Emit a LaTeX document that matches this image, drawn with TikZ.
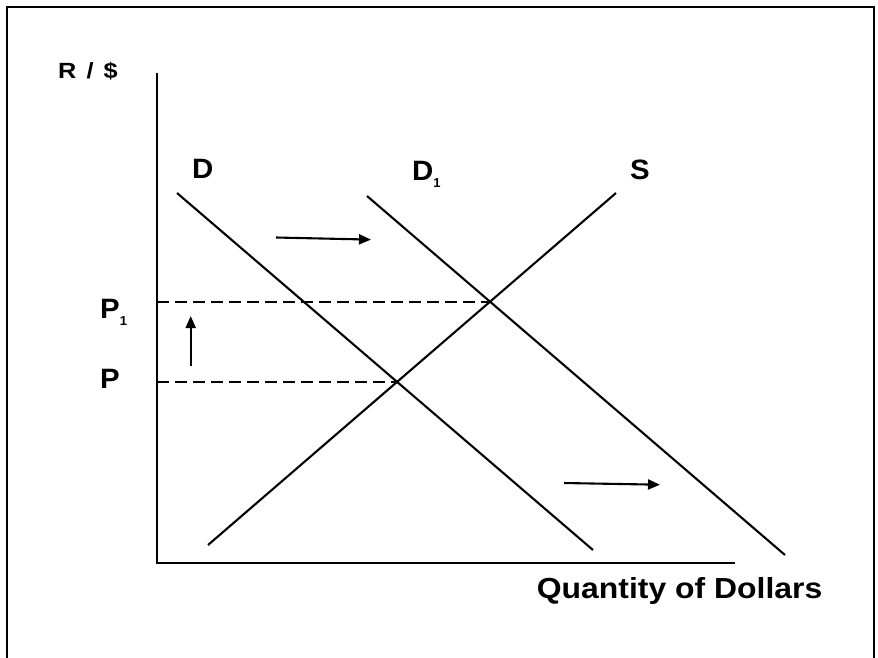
\documentclass[tikz,border=0pt]{standalone}
\usepackage{fontspec}
\setmainfont{Liberation Sans}
\usetikzlibrary{arrows.meta}
\begin{document}
\begin{tikzpicture}[x=1pt,y=-1pt,
  axisline/.style={line width=2.2pt},
  curve/.style={line width=2.1pt},
  guide/.style={line width=2.1pt,dash pattern=on 11.5pt off 6.5pt},
  shiftarrow/.style={line width=2.1pt,-{Triangle[length=12pt,width=10pt]}},
  lbl/.style={inner sep=0pt,anchor=base west,font=\fontsize{28}{30}\selectfont\bfseries},
  frameline/.style={line width=2pt}]
\useasboundingbox (0,0) rectangle (878,657);
\fill[white] (0,0) rectangle (878,657);
% frame
\draw[frameline] (7,662) -- (7,7) -- (874,7) -- (874,662);
% axes
\coordinate (ytop) at (157,73);
\coordinate (orig) at (157,563);
\coordinate (xend) at (735,563);
\draw[axisline] (ytop) -- (orig) -- (xend);
% curves
\coordinate (Da) at (177,193);
\coordinate (Db) at (593,550);
\coordinate (D1a) at (367,196);
\coordinate (D1b) at (785,555);
\coordinate (Sa) at (208,545);
\coordinate (Sb) at (616,193);
\draw[curve] (Da) -- (Db);
\draw[curve] (D1a) -- (D1b);
\draw[curve] (Sa) -- (Sb);
% equilibria
\coordinate (E0) at (intersection of Da--Db and Sa--Sb);
\coordinate (E1) at (intersection of D1a--D1b and Sa--Sb);
\draw[guide] (E1 -| orig) -- (E1);
\draw[guide] (E0 -| orig) -- (E0);
% arrows
\coordinate (u0) at (190.7,366);
\coordinate (u1) at (190.7,316);
\draw[shiftarrow] (u0) -- (u1);
\coordinate (a0) at (276,237.5);
\coordinate (a1) at (371,239.6);
\draw[shiftarrow] (a0) -- (a1);
\coordinate (b0) at (564,483);
\coordinate (b1) at (660,484.7);
\draw[shiftarrow] (b0) -- (b1);
% labels
\node[lbl,font=\fontsize{22}{24}\selectfont\bfseries] (ylab) at (58,78) {\scalebox{1.15}[1]{R\hspace{0.4em}/\hspace{0.4em}\$}};
\node[lbl] (Dlab) at (192,178) {\scalebox{1.05}[1]{D}};
\node[lbl] (D1lab) at (412,180) {\scalebox{1.05}[1]{D}\raisebox{-7pt}{\fontsize{13}{13}\selectfont 1}};
\node[lbl] (Slab) at (630,179) {\scalebox{1.05}[1]{S}};
\node[lbl] (P1lab) at (100,318.5) {\scalebox{1.05}[1]{P}\raisebox{-6.5pt}{\fontsize{13}{13}\selectfont 1}};
\node[lbl] (Plab) at (100,388) {\scalebox{1.05}[1]{P}};
\node[lbl,font=\fontsize{29}{31}\selectfont\bfseries] (xlab) at (536.7,598) {\scalebox{1.1}[1]{Quantity of Dollars}};
\end{tikzpicture}
\end{document}
